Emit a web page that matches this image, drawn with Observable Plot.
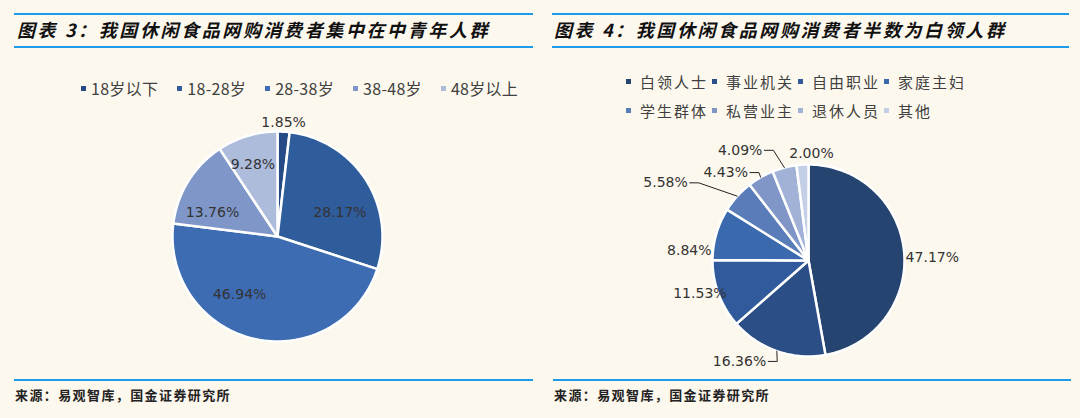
<!DOCTYPE html>
<html><head><meta charset="utf-8">
<script src="https://cdn.jsdelivr.net/npm/d3@7"></script>
<script src="https://cdn.jsdelivr.net/npm/@observablehq/plot@0.6"></script>
<style>
html,body{margin:0;padding:0;background:#fdf8ee;}
#wrap{position:relative;width:1080px;height:418px;overflow:hidden;background:#fdf8ee;font-family:"Noto Sans CJK SC",sans-serif;}
.title{position:absolute;top:13px;height:31px;border-top:2px solid #1e9be8;border-bottom:2px solid #1e9be8;font-family:"Noto Sans CJK SC",sans-serif;font-weight:700;font-style:italic;font-size:18px;line-height:28px;letter-spacing:2.6px;color:#111;white-space:nowrap;box-sizing:content-box;}
.foot{position:absolute;top:379px;border-top:2px solid #1e9be8;font-family:"Noto Sans CJK SC",serif;font-weight:700;font-size:13px;letter-spacing:1.4px;color:#222;line-height:28px;white-space:nowrap;}
.legL{position:absolute;left:81px;top:76px;display:flex;align-items:center;font-size:16px;letter-spacing:0.3px;color:#404040;font-family:"Noto Sans CJK SC",sans-serif;}
.legL .it{display:flex;align-items:center;margin-right:19px;}
.sw{width:5px;height:5px;display:inline-block;margin-right:5px;}
.legR{position:absolute;left:626px;top:70px;display:grid;grid-template-columns:repeat(4,86px);row-gap:6px;font-size:15px;color:#404040;letter-spacing:2px;font-family:"Noto Sans CJK SC",sans-serif;}
.legR .it{display:flex;align-items:center;height:23px;}
.legR .sw{margin-right:9px;}
.plot{position:absolute;top:0;}
</style></head>
<body><div id="wrap">
<div class="title" style="left:14px;width:516px;padding-left:3px;">图表 3：我国休闲食品网购消费者集中在中青年人群</div>
<div class="title" style="left:552px;width:515px;padding-left:2px;">图表 4：我国休闲食品网购消费者半数为白领人群</div>
<div class="foot" style="left:14px;width:518px;padding-left:1px;">来源：易观智库，国金证券研究所</div>
<div class="foot" style="left:553px;width:517px;padding-left:1px;">来源：易观智库，国金证券研究所</div>
<div class="legL" id="legL"></div>
<div class="legR" id="legR"></div>
<div class="plot" id="p1" style="left:0px"></div>
<div class="plot" id="p2" style="left:540px"></div>
</div>
<script>
// ---- data ----
const ageCats = ["18岁以下", "18-28岁", "28-38岁", "38-48岁", "48岁以上"];
const ageShares = [1.85, 28.17, 46.94, 13.76, 9.28];
const ageColors = ["#254a86", "#2f5c9b", "#3d6cb3", "#7f97c8", "#aebcdc"];

const jobCats = ["白领人士", "事业机关", "自由职业", "家庭主妇", "学生群体", "私营业主", "退休人员", "其他"];
const jobShares = [47.17, 16.36, 11.53, 8.84, 5.58, 4.43, 4.09, 2.00];
const jobColors = ["#254470", "#2b4e86", "#305a9b", "#3a69ae", "#5a7dba", "#7f96c7", "#a2b2d7", "#c4cee7"];

// ---- label layout (styling) ----
const ageLabelLayout = [
  {k: 1, dx: 0, dy: -9, anchor: "middle"},
  {k: 0.65, dx: 5, dy: 13, anchor: "middle"},
  {k: 0.65, dx: -23, dy: -9, anchor: "middle"},
  {k: 0.65, dx: -7, dy: 12, anchor: "middle"},
  {k: 0.65, dx: -5, dy: -7, anchor: "middle"}
];
const jobLabelLayout = [
  {k: 1, dx: 1.5, dy: 6, anchor: "start"},
  {k: 1, dx: -10.6, dy: 10.3, anchor: "end", leader: true},
  {k: 1, dx: 8, dy: -1, anchor: "end"},
  {k: 1, dx: -4.7, dy: 17, anchor: "end"},
  {k: 1, dx: -49.5, dy: -13.3, anchor: "end", leader: true},
  {k: 1, dx: -12.7, dy: -4.7, anchor: "end", leader: true},
  {k: 1, dx: -22, dy: -17.3, anchor: "end", leader: true},
  {k: 1, dx: 9, dy: -11, anchor: "middle"}
];

function legend(el, cats, colors) {
  const box = document.getElementById(el);
  cats.forEach((c, i) => {
    const it = document.createElement("div"); it.className = "it";
    const sw = document.createElement("span"); sw.className = "sw"; sw.style.background = colors[i];
    const t = document.createElement("span"); t.textContent = c;
    it.appendChild(sw); it.appendChild(t); box.appendChild(it);
  });
}
legend("legL", ageCats, ageColors);
legend("legR", jobCats, jobColors);

function piePlot(cats, shares, colors, layout, cx, cy, r) {
  const total = d3.sum(shares);
  let acc = 0;
  const slices = cats.map((c, i) => {
    const a0 = acc / total * 2 * Math.PI; acc += shares[i];
    const a1 = acc / total * 2 * Math.PI;
    return {cat: c, value: shares[i], a0, a1, mid: (a0 + a1) / 2};
  });
  const pt = (a, rr) => [cx + rr * Math.sin(a), cy - rr * Math.cos(a)];
  const features = slices.map(s => {
    const n = Math.max(2, Math.ceil((s.a1 - s.a0) / (Math.PI / 180)));
    const ring = [[cx, cy]];
    for (let j = 0; j <= n; j++) ring.push(pt(s.a0 + (s.a1 - s.a0) * j / n, r));
    ring.push([cx, cy]);
    return {type: "Feature", properties: {cat: s.cat}, geometry: {type: "Polygon", coordinates: [ring]}};
  });
  const labels = slices.map((s, i) => {
    const L = layout[i];
    const p = pt(s.mid, r * L.k);
    return {x: p[0] + L.dx, y: p[1] + L.dy, text: s.value.toFixed(2) + "%", anchor: L.anchor, leader: L.leader, arc: pt(s.mid, r)};
  });
  const leaders = labels.filter(d => d.leader).map(d => ({
    type: "Feature", properties: {},
    geometry: {type: "LineString", coordinates: [[d.x + 2, d.y], [d.x + 11, d.y], d.arc]}
  }));
  const textOpts = (anchor) => ({x: "x", y: "y", text: "text", textAnchor: anchor, fontSize: 14, fontFamily: "DejaVu Sans", fill: "#333"});
  return Plot.plot({
    width: 540, height: 418, margin: 0,
    projection: {type: "identity"},
    color: {domain: cats, range: colors},
    style: {background: "transparent", overflow: "visible"},
    marks: [
      Plot.geo(features, {fill: d => d.properties.cat, stroke: "white", strokeWidth: 2.5, strokeLinejoin: "round"}),
      Plot.geo(leaders, {stroke: "#222", strokeWidth: 1, fill: "none"}),
      Plot.text(labels.filter(d => d.anchor === "middle"), textOpts("middle")),
      Plot.text(labels.filter(d => d.anchor === "start"), textOpts("start")),
      Plot.text(labels.filter(d => d.anchor === "end"), textOpts("end"))
    ]
  });
}
document.getElementById("p1").appendChild(piePlot(ageCats, ageShares, ageColors, ageLabelLayout, 277, 236, 105));
document.getElementById("p2").appendChild(piePlot(jobCats, jobShares, jobColors, jobLabelLayout, 268, 260, 96));
</script>
</body></html>
